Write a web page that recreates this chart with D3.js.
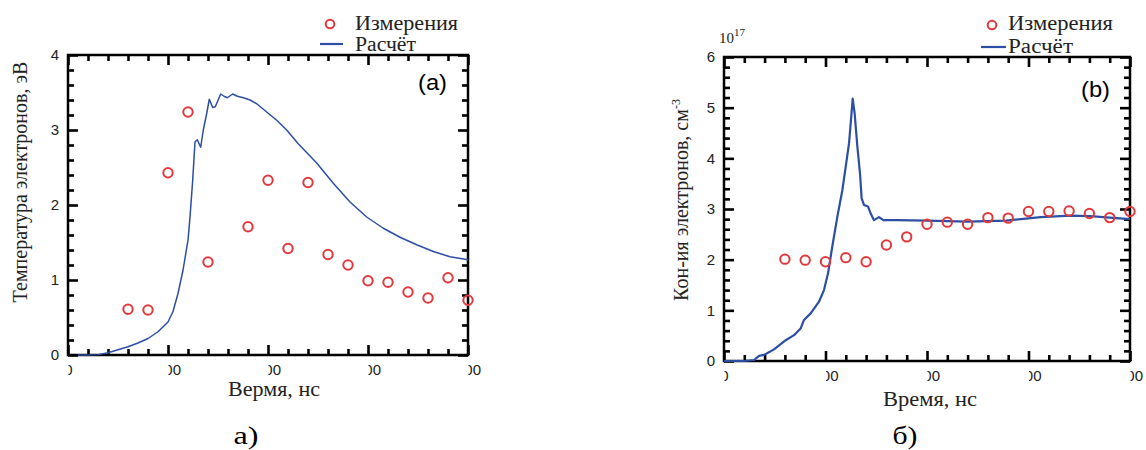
<!DOCTYPE html>
<html><head><meta charset="utf-8">
<script src="https://cdn.jsdelivr.net/npm/d3@7"></script>
<style>
body{margin:0;background:#fff}svg{display:block}
.serif{font-family:"Liberation Serif","Times New Roman",serif}
.sans{font-family:"Liberation Sans",Arial,sans-serif}
</style>
</head><body>
<svg id="c" width="1146" height="450"></svg>
<script>
// ---- Data ----
const tempMeasT = [60,80,100,120,140,180,200,220,240,260,280,300,320,340,360,380,400];
const tempMeasV = [0.61,0.60,2.43,3.24,1.24,1.71,2.33,1.42,2.30,1.34,1.20,0.99,0.97,0.84,0.76,1.03,0.73];
const tempCalcT = [10,20,30,40,50,60,70,80,90,100,105,110,115,120,122,124.7,127,129.3,132.7,135.3,138.7,141.3,144.7,147.3,152.7,156,159.3,164.7,169.3,175.3,182,188.7,198.7,208.7,218.7,230,248.7,265.3,282,298.7,315.3,332,348.7,365.3,382,400];
const tempCalcV = [0,0,0.005,0.03,0.07,0.11,0.16,0.22,0.31,0.44,0.58,0.82,1.13,1.53,1.84,2.33,2.84,2.87,2.77,3.0,3.22,3.41,3.30,3.31,3.48,3.45,3.43,3.48,3.45,3.43,3.40,3.35,3.24,3.13,3.0,2.82,2.56,2.29,2.04,1.84,1.69,1.57,1.47,1.38,1.31,1.27];

const densMeasT = [60,80,100,120,140,160,180,200,220,240,260,280,300,320,340,360,380,400];
const densMeasV = [2.01,1.99,1.96,2.04,1.96,2.29,2.45,2.70,2.74,2.70,2.83,2.82,2.95,2.95,2.96,2.91,2.83,2.95];
const densCalcT = [0,20,29.6,34.5,39.4,49.3,60.8,69,75.5,78.8,85.4,93.6,98.5,102.5,106.7,111.7,116.6,119.9,123.2,124.8,126.8,128.7,131.4,134,135.6,137.9,141.9,144.5,147.8,152.7,157,170,200,240,278,312,341,361,380,400];
const densCalcV = [0,0,0.02,0.1,0.12,0.23,0.41,0.51,0.64,0.81,0.94,1.17,1.40,1.73,2.26,2.85,3.37,3.83,4.30,4.69,5.18,4.89,4.23,3.70,3.21,3.08,3.05,2.91,2.78,2.84,2.78,2.78,2.77,2.75,2.77,2.84,2.87,2.86,2.83,2.80];

const xTicks = [0,100,200,300,400];
const xMinorTicks = [20,40,60,80,120,140,160,180,220,240,260,280,320,340,360,380];
const tempTicks = [0,1,2,3,4];
const densTicks = [0,1,2,3,4,5,6];
const legendLabels = ["Измерения","Расчёт"];

const RED = "#e2383c", BLUE = "#2c4ea3", INK = "#000";
const svg = d3.select("#c");
const fmt = d3.format("d");

function drawAxis(g, axis, tr){
  const a = g.append("g").attr("transform",tr).call(axis);
  a.select(".domain").remove();
  a.selectAll("line").attr("stroke",INK).attr("stroke-width",2.6);
  a.selectAll("text").attr("class","sans").attr("font-size",15).attr("fill","#222");
  return a;
}
function fitText(sel, len){ if(len) sel.attr("textLength",len).attr("lengthAdjust","spacingAndGlyphs"); return sel; }

function panel(o){
  const x = d3.scaleLinear().domain([0,400]).range(o.xr);
  const y = d3.scaleLinear().domain(o.yd).range(o.yr);
  const g = svg.append("g");
  const X0=o.xr[0], X1=o.xr[1], Y0=o.yr[0], Y1=o.yr[1];
  const yMinor = d3.range(o.yd[0]*5, o.yd[1]*5+1).map(v=>v/5).filter(v=>!Number.isInteger(v));

  // minor ticks (inward, all four sides)
  drawAxis(g, d3.axisBottom(x).tickValues(xMinorTicks).tickSize(-6).tickFormat(""), `translate(0,${Y0})`);
  drawAxis(g, d3.axisTop(x).tickValues(xMinorTicks).tickSize(-6).tickFormat(""), `translate(0,${Y1})`);
  drawAxis(g, d3.axisLeft(y).tickValues(yMinor).tickSize(-6).tickFormat(""), `translate(${X0},0)`);
  drawAxis(g, d3.axisRight(y).tickValues(yMinor).tickSize(-6).tickFormat(""), `translate(${X1},0)`);
  // major ticks
  const xa = drawAxis(g, d3.axisBottom(x).tickValues(xTicks).tickSize(-10).tickPadding(9.5).tickFormat(fmt), `translate(0,${Y0})`);
  drawAxis(g, d3.axisTop(x).tickValues(xTicks).tickSize(-10).tickFormat(""), `translate(0,${Y1})`);
  drawAxis(g, d3.axisLeft(y).tickValues(o.yTicks).tickSize(-10).tickPadding(9).tickFormat(fmt), `translate(${X0},0)`);
  drawAxis(g, d3.axisRight(y).tickValues(o.yTicks).tickSize(-10).tickFormat(""), `translate(${X1},0)`);
  // the reference crops the last x label at the panel edge
  svg.append("defs").append("clipPath").attr("id","clip"+o.id).append("rect")
    .attr("x",0).attr("y",0).attr("width",o.clipX).attr("height",450);
  xa.selectAll("text").attr("clip-path","url(#clip"+o.id+")");

  g.append("rect").attr("x",X0).attr("y",Y1).attr("width",X1-X0).attr("height",Y0-Y1)
    .attr("fill","none").attr("stroke",INK).attr("stroke-width",2.5);

  // calc line
  const pts = o.calcT.map((t,i)=>[t,o.calcV[i]]);
  g.append("path").datum(pts).attr("fill","none").attr("stroke",BLUE).attr("stroke-width",o.lw)
    .attr("stroke-linejoin","round")
    .attr("d",d3.line().x(d=>x(d[0])).y(d=>y(d[1])));
  // measurement circles
  g.selectAll(null).data(o.measT.map((t,i)=>[t,o.measV[i]])).join("circle")
    .attr("cx",d=>x(d[0])).attr("cy",d=>y(d[1])).attr("r",4.7)
    .attr("fill","none").attr("stroke",RED).attr("stroke-width",2);

  // panel tag
  fitText(g.append("text").attr("class","sans").attr("x",o.tag[0]).attr("y",o.tag[1]).attr("text-anchor","end")
    .attr("font-size",22).attr("fill",INK).text(o.tagText), 29);

  // x title
  fitText(g.append("text").attr("class","serif").attr("x",o.xt[0]).attr("y",o.xt[1]).attr("text-anchor","middle")
    .attr("font-size",20).attr("fill","#222").text(o.xTitle), o.xtLen);
  // y title
  const yt = g.append("text").attr("class","serif").attr("transform",`translate(${o.yt[0]},${o.yt[1]}) rotate(-90)`)
    .attr("text-anchor","middle").attr("font-size",20).attr("fill","#222");
  yt.append("tspan").text(o.yTitle);
  if(o.ySup) yt.append("tspan").attr("font-size",12).attr("dy",-8).text(o.ySup);
  // caption
  fitText(g.append("text").attr("class","serif").attr("x",o.cap[0]).attr("y",o.cap[1]).attr("text-anchor","middle")
    .attr("font-size",26).attr("fill",INK).text(o.capText), 25);

  // legend
  const L = o.leg;
  g.append("circle").attr("cx",L.cx).attr("cy",L.cy).attr("r",4.3).attr("fill","none").attr("stroke",RED).attr("stroke-width",2);
  g.append("line").attr("x1",L.lx0).attr("x2",L.lx1).attr("y1",L.ly).attr("y2",L.ly).attr("stroke",BLUE).attr("stroke-width",2.2);
  fitText(g.append("text").attr("class","serif").attr("x",L.tx).attr("y",L.ty1).attr("font-size",20.5).attr("fill","#222").text(legendLabels[0]), L.w1);
  fitText(g.append("text").attr("class","serif").attr("x",L.tx).attr("y",L.ty2).attr("font-size",20.5).attr("fill","#222").text(legendLabels[1]), L.w2);
  return g;
}

panel({id:"a", xr:[68,468], yr:[355,55], yd:[0,4], yTicks:tempTicks, clipX:478,
  calcT:tempCalcT, calcV:tempCalcV, measT:tempMeasT, measV:tempMeasV, lw:1.5,
  tag:[447,90], tagText:"(a)", xt:[274,396], xtLen:92, xTitle:"Вермя, нс",
  yt:[27,182], yTitle:"Температура электронов, эВ", cap:[246,444], capText:"а)",
  leg:{cx:330,cy:24,lx0:320,lx1:343,ly:44,tx:355,ty1:29.5,ty2:50.5,w1:103,w2:61}});

const gb = panel({id:"b", xr:[724,1130], yr:[361,57], yd:[0,6], yTicks:densTicks, clipX:1143,
  calcT:densCalcT, calcV:densCalcV, measT:densMeasT, measV:densMeasV, lw:2.2,
  tag:[1110,97], tagText:"(b)", xt:[930,406], xtLen:94, xTitle:"Время, нс",
  yt:[688,200], yTitle:"Кон-ия электронов, см", ySup:"-3", cap:[905,444], capText:"б)",
  leg:{cx:992,cy:25,lx0:981,lx1:1006,ly:47,tx:1008,ty1:30,ty2:52.5,w1:105,w2:65}});

// exponent label
const ex = gb.append("text").attr("class","serif").attr("x",719).attr("y",43)
  .attr("font-size",15).attr("fill","#222");
ex.append("tspan").text("10");
ex.append("tspan").attr("font-size",11).attr("dy",-7).text("17");
</script>
</body></html>
